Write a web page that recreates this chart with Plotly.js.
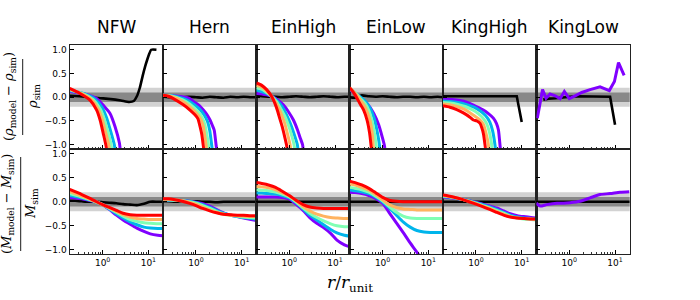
<!DOCTYPE html>
<html><head><meta charset="utf-8">
<script src="https://cdn.plot.ly/plotly-3.0.1.min.js"></script>
<style>html,body{margin:0;padding:0;background:#fff}#plot{width:700px;height:300px}</style>
</head><body><div id="plot"></div>
<script>
// ---------- categories / labels ----------
const panels = ['NFW', 'Hern', 'EinHigh', 'EinLow', 'KingHigh', 'KingLow'];
const xTickVals = [1, 10];
const xTickText = ['10<sup>0</sup>', '10<sup>1</sup>'];
const xMinorVals = [0.2,0.3,0.4,0.5,0.6,0.7,0.8,0.9,2,3,4,5,6,7,8,9,20];
const yTickVals = [-1, -0.5, 0, 0.5, 1];
const yTickText = ['\u22121.0', '\u22120.5', '0.0', '0.5', '1.0'];
// series order: purple, blue, green, orange, red
const seriesColors = ['#8000ff', '#00b5eb', '#80ffb4', '#ffb360', '#ff0000'];

// common radius grid (bottom row, flat black lines)
const R = [0.19, 0.25, 0.35, 0.5, 0.7, 1.0, 1.4, 2.0, 2.8, 4.0, 5.6, 8.0, 11, 16, 21];

// ---------- top row: density residuals ----------
const nfwRhoBlackR = [0.19, 0.4, 0.9, 1.5, 2.5, 3.8, 4.8, 5.6, 6.5, 7.5, 8.5, 9.5, 10.5, 11.5, 15];
const nfwRhoBlackY = [0.03, 0.01, -0.02, -0.04, -0.07, -0.1, -0.08, 0.02, 0.2, 0.45, 0.65, 0.8, 0.92, 1.0, 1.0];
const nfwRhoR = [
  [0.19, 0.4, 0.75, 1.1, 1.45, 1.87, 2.32, 2.55],
  [0.19, 0.38, 0.68, 0.98, 1.22, 1.48, 1.8, 1.97],
  [0.19, 0.36, 0.62, 0.88, 1.07, 1.28, 1.53, 1.67],
  [0.19, 0.34, 0.57, 0.8, 0.97, 1.15, 1.36, 1.48],
  [0.19, 0.32, 0.53, 0.74, 0.88, 1.03, 1.19, 1.3]];
const nfwRhoY = [
  [0.12, 0.07, -0.03, -0.2, -0.34, -0.62, -0.96, -1.3],
  [0.14, 0.08, -0.04, -0.22, -0.43, -0.7, -1.0, -1.3],
  [0.155, 0.08, -0.05, -0.24, -0.44, -0.7, -1.0, -1.3],
  [0.17, 0.08, -0.05, -0.25, -0.45, -0.72, -1.0, -1.3],
  [0.185, 0.08, -0.06, -0.27, -0.48, -0.76, -1.03, -1.3]];

const hernRhoBlackY = [0.01, 0.0, 0.01, 0.0, 0.01, 0.0, -0.01, 0.01, 0.0, -0.01, 0.01, 0.0, 0.01, 0.0, 0.0];
const hernRhoR = [
  [0.19, 0.3, 0.5, 0.7, 0.88, 1.2, 1.45, 1.75, 2.03, 2.3, 2.5, 2.75, 3.0],
  [0.19, 0.3, 0.5, 0.7, 0.9, 1.2, 1.5, 1.8, 2.0, 2.2, 2.4],
  [0.19, 0.3, 0.5, 0.7, 0.9, 1.1, 1.35, 1.55, 1.7, 1.87, 2.0],
  [0.19, 0.3, 0.5, 0.7, 0.9, 1.1, 1.3, 1.45, 1.55, 1.66, 1.8],
  [0.19, 0.25, 0.32, 0.53, 0.74, 0.95, 1.1, 1.23, 1.35, 1.45, 1.6]];
const hernRhoY = [
  [0.04, 0.03, 0.01, -0.02, -0.09, -0.18, -0.27, -0.37, -0.48, -0.6, -0.69, -1.0, -1.3],
  [0.04, 0.03, -0.02, -0.08, -0.15, -0.25, -0.37, -0.52, -0.7, -1.0, -1.3],
  [0.04, 0.02, -0.05, -0.13, -0.22, -0.3, -0.42, -0.56, -0.75, -1.0, -1.3],
  [0.04, 0.01, -0.08, -0.18, -0.28, -0.37, -0.48, -0.62, -0.8, -1.0, -1.3],
  [0.04, 0.02, -0.03, -0.16, -0.27, -0.37, -0.45, -0.62, -0.8, -1.03, -1.3]];

const einHighRhoBlackY = [0.04, 0.02, 0.01, 0.01, 0.0, 0.01, 0.02, 0.01, 0.0, 0.01, 0.02, 0.01, 0.0, 0.01, 0.01];
const einHighRhoR = [
  [0.19, 0.25, 0.32, 0.41, 0.55, 0.74, 0.95, 1.23, 1.5, 1.75, 1.95, 2.1],
  [0.19, 0.25, 0.32, 0.41, 0.55, 0.7, 0.85, 1.05, 1.25, 1.5, 1.62],
  [0.19, 0.25, 0.32, 0.41, 0.52, 0.65, 0.8, 0.95, 1.1, 1.27, 1.38],
  [0.19, 0.25, 0.32, 0.41, 0.5, 0.6, 0.7, 0.8, 0.9, 1.04, 1.12],
  [0.19, 0.25, 0.32, 0.41, 0.48, 0.55, 0.62, 0.7, 0.8, 0.88, 0.95]];
const einHighRhoY = [
  [0.08, 0.07, 0.05, 0.02, -0.05, -0.16, -0.3, -0.48, -0.68, -0.87, -1.0, -1.3],
  [0.15, 0.12, 0.08, 0.02, -0.08, -0.2, -0.35, -0.55, -0.75, -1.0, -1.3],
  [0.2, 0.17, 0.1, 0.02, -0.09, -0.24, -0.4, -0.58, -0.77, -1.0, -1.3],
  [0.25, 0.21, 0.13, 0.02, -0.1, -0.25, -0.4, -0.56, -0.75, -1.0, -1.3],
  [0.3, 0.25, 0.16, 0.02, -0.12, -0.28, -0.45, -0.62, -0.85, -1.03, -1.3]];

const einLowRhoBlackY = [0.0, -0.01, 0.04, 0.02, 0.01, 0.02, 0.01, 0.0, 0.01, 0.01, 0.0, 0.01, 0.0, 0.01, 0.0];
const einLowRhoR = [
  [0.19, 0.22, 0.26, 0.33, 0.457, 0.64, 0.82, 0.975, 1.1, 1.17],
  [0.19, 0.22, 0.26, 0.33, 0.43, 0.54, 0.65, 0.76, 0.85, 0.9],
  [0.19, 0.22, 0.26, 0.33, 0.42, 0.5, 0.58, 0.66, 0.72, 0.77],
  [0.19, 0.22, 0.26, 0.33, 0.4, 0.47, 0.54, 0.6, 0.62, 0.66],
  [0.19, 0.22, 0.25, 0.33, 0.385, 0.457, 0.52, 0.56, 0.6]];
const einLowRhoY = [
  [0.17, 0.12, 0.07, -0.02, -0.13, -0.34, -0.58, -0.83, -1.03, -1.3],
  [0.18, 0.13, 0.08, 0.0, -0.1, -0.24, -0.44, -0.72, -1.0, -1.3],
  [0.19, 0.14, 0.08, -0.03, -0.14, -0.28, -0.48, -0.75, -1.0, -1.3],
  [0.2, 0.14, 0.07, -0.06, -0.18, -0.33, -0.52, -0.8, -1.0, -1.3],
  [0.2, 0.13, 0.05, -0.16, -0.27, -0.48, -0.76, -1.03, -1.3]];

const kingHighRhoBlackR = [0.19, 0.5, 1, 2, 4, 6, 7.8, 10];
const kingHighRhoBlackY = [0.02, 0.02, 0.02, 0.03, 0.03, 0.03, 0.02, -0.52];
const kingHighRhoR = [
  [0.19, 0.3, 0.45, 0.65, 0.88, 1.15, 1.45, 1.9, 2.4, 2.8, 3.1, 3.37, 3.6],
  [0.19, 0.27, 0.4, 0.6, 0.9, 1.2, 1.6, 2.0, 2.3, 2.6, 2.8],
  [0.19, 0.27, 0.4, 0.6, 0.85, 1.1, 1.4, 1.7, 1.95, 2.2, 2.35],
  [0.19, 0.27, 0.4, 0.55, 0.75, 0.95, 1.2, 1.45, 1.65, 1.87, 2.0],
  [0.19, 0.27, 0.38, 0.53, 0.74, 0.88, 1.05, 1.23, 1.35, 1.45, 1.59, 1.7]];
const kingHighRhoY = [
  [-0.045, -0.05, -0.07, -0.11, -0.165, -0.22, -0.27, -0.35, -0.44, -0.55, -0.69, -1.03, -1.3],
  [-0.08, -0.09, -0.11, -0.15, -0.21, -0.28, -0.38, -0.52, -0.7, -1.0, -1.3],
  [-0.11, -0.12, -0.15, -0.2, -0.27, -0.34, -0.43, -0.55, -0.72, -1.0, -1.3],
  [-0.14, -0.16, -0.2, -0.25, -0.33, -0.4, -0.47, -0.57, -0.75, -1.0, -1.3],
  [-0.18, -0.21, -0.26, -0.33, -0.42, -0.48, -0.5, -0.55, -0.65, -0.76, -1.03, -1.3]];

const kingLowRhoBlackR = [0.27, 0.35, 0.5, 0.7, 1.04, 1.5, 2.4, 4, 6, 7.8, 10];
const kingLowRhoBlackY = [-0.05, -0.03, -0.02, 0.0, 0.01, 0.02, 0.02, 0.02, 0.02, 0.01, -0.58];
const kingLowRhoPurpleR = [0.2, 0.26, 0.31, 0.38, 0.49, 0.63, 0.78, 1.0, 1.34, 1.87, 2.85, 4.7, 7.5, 9.7, 11.9, 15.8];
const kingLowRhoPurpleY = [-0.44, 0.16, -0.02, 0.07, 0.03, -0.03, 0.12, -0.03, 0.03, 0.1, 0.16, 0.22, 0.14, 0.33, 0.73, 0.46];

// ---------- bottom row: enclosed-mass residuals (on grid R) ----------
const nfwMassBlackY = [0.02, 0.02, 0.01, 0.0, 0.0, -0.01, -0.02, -0.03, -0.05, -0.06, -0.07, -0.04, 0.0, 0.0, 0.0];
const nfwMassY = [
  [0.09, 0.08, 0.06, 0.03, 0.0, -0.06, -0.16, -0.28, -0.38, -0.47, -0.55, -0.62, -0.67, -0.7, -0.71],
  [0.13, 0.11, 0.08, 0.04, 0.0, -0.06, -0.15, -0.25, -0.34, -0.42, -0.48, -0.53, -0.55, -0.56, -0.56],
  [0.17, 0.14, 0.1, 0.05, 0.0, -0.06, -0.14, -0.22, -0.3, -0.37, -0.41, -0.44, -0.45, -0.46, -0.46],
  [0.21, 0.17, 0.12, 0.06, 0.0, -0.06, -0.13, -0.2, -0.27, -0.32, -0.35, -0.36, -0.37, -0.37, -0.37],
  [0.26, 0.21, 0.15, 0.08, 0.01, -0.06, -0.12, -0.18, -0.24, -0.27, -0.28, -0.28, -0.28, -0.28, -0.28]];

const hernMassBlackY = [0.01, 0.01, 0.0, 0.0, 0.0, 0.01, 0.0, 0.0, -0.01, 0.0, 0.0, 0.0, 0.0, 0.0, 0.0];
const hernMassY = [
  [0.03, 0.03, 0.03, 0.02, 0.01, -0.01, -0.04, -0.09, -0.16, -0.23, -0.28, -0.31, -0.34, -0.37, -0.39],
  [0.03, 0.03, 0.03, 0.02, 0.01, -0.02, -0.06, -0.12, -0.18, -0.24, -0.28, -0.31, -0.33, -0.35, -0.36],
  [0.04, 0.04, 0.03, 0.02, 0.0, -0.03, -0.08, -0.14, -0.2, -0.25, -0.28, -0.3, -0.32, -0.33, -0.34],
  [0.05, 0.05, 0.04, 0.02, -0.01, -0.05, -0.11, -0.17, -0.22, -0.26, -0.28, -0.29, -0.3, -0.31, -0.31],
  [0.06, 0.06, 0.04, 0.01, -0.03, -0.08, -0.14, -0.19, -0.23, -0.26, -0.27, -0.28, -0.28, -0.29, -0.29]];

const einHighMassBlackY = [0.0, 0.0, 0.0, 0.0, 0.0, 0.0, 0.0, 0.0, 0.0, 0.0, 0.0, 0.0, 0.0, 0.0, 0.0];
const einHighMassY = [
  [0.1, 0.1, 0.1, 0.1, 0.09, 0.06, -0.05, -0.18, -0.33, -0.45, -0.54, -0.66, -0.8, -0.9, -0.94],
  [0.18, 0.18, 0.17, 0.16, 0.13, 0.08, -0.02, -0.15, -0.28, -0.38, -0.48, -0.58, -0.65, -0.7, -0.72],
  [0.25, 0.24, 0.23, 0.2, 0.16, 0.1, 0.0, -0.13, -0.24, -0.33, -0.4, -0.46, -0.5, -0.52, -0.52],
  [0.32, 0.31, 0.29, 0.25, 0.19, 0.12, 0.02, -0.1, -0.19, -0.26, -0.3, -0.33, -0.34, -0.35, -0.35],
  [0.4, 0.38, 0.35, 0.3, 0.22, 0.13, 0.03, -0.06, -0.11, -0.13, -0.14, -0.14, -0.14, -0.14, -0.14]];

const einLowMassBlackY = [0.0, 0.0, 0.0, 0.0, 0.0, 0.0, 0.0, 0.0, 0.0, 0.0, 0.0, 0.0, 0.0, 0.0, 0.0];
const einLowMassY = [
  [0.2, 0.19, 0.17, 0.13, 0.07, -0.03, -0.23, -0.44, -0.64, -0.86, -1.05, -1.27, -1.45, -1.6, -1.7],
  [0.25, 0.23, 0.21, 0.17, 0.1, 0.0, -0.13, -0.28, -0.42, -0.53, -0.6, -0.63, -0.64, -0.64, -0.64],
  [0.3, 0.28, 0.25, 0.2, 0.12, 0.02, -0.1, -0.22, -0.3, -0.34, -0.35, -0.35, -0.35, -0.35, -0.35],
  [0.37, 0.35, 0.3, 0.24, 0.15, 0.04, -0.06, -0.12, -0.15, -0.16, -0.17, -0.17, -0.17, -0.17, -0.17],
  [0.43, 0.4, 0.35, 0.28, 0.19, 0.09, 0.03, 0.01, 0.0, 0.0, 0.0, 0.0, 0.0, 0.0, 0.0]];

const kingHighMassBlackY = [0.0, 0.0, 0.0, 0.0, 0.0, 0.0, 0.0, 0.0, 0.0, 0.0, 0.0, 0.0, 0.0, 0.0, 0.0];
const kingHighMassY = [
  [0.1, 0.09, 0.07, 0.05, 0.02, -0.01, -0.05, -0.09, -0.13, -0.19, -0.25, -0.29, -0.31, -0.33, -0.34],
  [0.11, 0.1, 0.08, 0.05, 0.02, -0.02, -0.06, -0.11, -0.16, -0.22, -0.28, -0.32, -0.34, -0.35, -0.36],
  [0.12, 0.11, 0.08, 0.05, 0.01, -0.03, -0.08, -0.13, -0.18, -0.24, -0.3, -0.34, -0.36, -0.37, -0.38],
  [0.13, 0.11, 0.09, 0.05, 0.01, -0.04, -0.09, -0.14, -0.2, -0.26, -0.31, -0.34, -0.35, -0.36, -0.37],
  [0.14, 0.12, 0.09, 0.05, 0.0, -0.05, -0.1, -0.16, -0.22, -0.28, -0.32, -0.34, -0.35, -0.36, -0.36]];

const kingLowMassBlackY = [0.0, 0.0, 0.0, 0.0, 0.0, 0.0, 0.0, 0.0, 0.0, 0.0, 0.0, 0.0, 0.0, 0.0, 0.0];
const kingLowMassPurpleR = [0.19, 0.23, 0.32, 0.54, 0.75, 1.04, 1.72, 2.85, 4.7, 7.8, 12.9, 20.6];
const kingLowMassPurpleY = [-0.03, -0.09, -0.06, -0.03, -0.03, -0.02, 0.01, 0.08, 0.15, 0.17, 0.2, 0.21];

// ---------- assembly ----------
const W = 700, H = 300, L0 = 69.7, PW = 93.33;
const rowPx = [[45, 149], [149, 254]];
const traces = [];
const layout = {
  width: W, height: H, margin: {l: 0, r: 0, t: 0, b: 0},
  showlegend: false, paper_bgcolor: '#fff', plot_bgcolor: '#fff',
  shapes: [], annotations: []
};
function sfx(k) { return k === 1 ? '' : String(k); }
function addPanel(k, col, row) {
  const s = sfx(k);
  layout['xaxis' + s] = {
    type: 'log', range: [-0.72, 1.32], domain: [(L0 + PW * col) / W, (L0 + PW * (col + 1)) / W],
    anchor: 'y' + s, ticks: 'inside', ticklen: 4, tickwidth: 1, tickcolor: '#000',
    tickmode: 'array', tickvals: xTickVals, ticktext: xTickText, showticklabels: row === 1,
    tickfont: {family: 'DejaVu Sans', size: 9, color: '#000'},
    showgrid: false, zeroline: false, showline: true, mirror: true, linecolor: '#222', linewidth: 1.2,
    minor: {ticks: 'inside', ticklen: 2, tickwidth: 0.8, tickcolor: '#000', tickmode: 'array', tickvals: xMinorVals, showgrid: false}
  };
  const rp = rowPx[row];
  layout['yaxis' + s] = {
    range: [-1.09, 1.1], domain: [(H - rp[1]) / H, (H - rp[0]) / H], anchor: 'x' + s,
    ticks: 'inside', ticklen: 4, tickwidth: 1, tickcolor: '#000',
    tickmode: 'array', tickvals: yTickVals, ticktext: yTickText, showticklabels: col === 0,
    tickfont: {family: 'DejaVu Sans', size: 9, color: '#000'},
    showgrid: false, zeroline: false, showline: true, mirror: true, linecolor: '#222', linewidth: 1.2
  };
  layout.shapes.push({type: 'rect', xref: 'x' + s + ' domain', yref: 'y' + s, x0: 0, x1: 1, y0: -0.2, y1: 0.2,
    fillcolor: '#d2d2d2', line: {width: 0}, layer: 'below'});
  layout.shapes.push({type: 'rect', xref: 'x' + s + ' domain', yref: 'y' + s, x0: 0, x1: 1, y0: -0.1, y1: 0.1,
    fillcolor: '#888888', line: {width: 0}, layer: 'below'});
}
function line(k, x, y, color, width, shape) {
  const s = sfx(k);
  traces.push({type: 'scatter', mode: 'lines', x: x, y: y, xaxis: 'x' + s, yaxis: 'y' + s,
    line: {color: color, width: width, shape: shape || 'spline', smoothing: 0.6}, hoverinfo: 'skip'});
}
for (let c = 0; c < 6; c++) { addPanel(c + 1, c, 0); addPanel(c + 7, c, 1); }

// top row
line(1, nfwRhoBlackR, nfwRhoBlackY, '#000', 2.6);
nfwRhoR.forEach((r, i) => line(1, r, nfwRhoY[i], seriesColors[i], 3));
line(2, R, hernRhoBlackY, '#000', 2.6);
hernRhoR.forEach((r, i) => line(2, r, hernRhoY[i], seriesColors[i], 3));
line(3, R, einHighRhoBlackY, '#000', 2.6);
einHighRhoR.forEach((r, i) => line(3, r, einHighRhoY[i], seriesColors[i], 3));
line(4, R, einLowRhoBlackY, '#000', 2.6);
einLowRhoR.forEach((r, i) => line(4, r, einLowRhoY[i], seriesColors[i], 3));
line(5, kingHighRhoBlackR, kingHighRhoBlackY, '#000', 2.6, 'linear');
kingHighRhoR.forEach((r, i) => line(5, r, kingHighRhoY[i], seriesColors[i], 3));
line(6, kingLowRhoBlackR, kingLowRhoBlackY, '#000', 2.6, 'linear');
line(6, kingLowRhoPurpleR, kingLowRhoPurpleY, seriesColors[0], 3, 'linear');
// bottom row
line(7, R, nfwMassBlackY, '#000', 2.6);
nfwMassY.forEach((y, i) => line(7, R, y, seriesColors[i], 3));
line(8, R, hernMassBlackY, '#000', 2.6);
hernMassY.forEach((y, i) => line(8, R, y, seriesColors[i], 3));
line(9, R, einHighMassBlackY, '#000', 2.6);
einHighMassY.forEach((y, i) => line(9, R, y, seriesColors[i], 3));
line(10, R, einLowMassBlackY, '#000', 2.6);
einLowMassY.forEach((y, i) => line(10, R, y, seriesColors[i], 3));
line(11, R, kingHighMassBlackY, '#000', 2.6);
kingHighMassY.forEach((y, i) => line(11, R, y, seriesColors[i], 3));
line(12, R, kingLowMassBlackY, '#000', 2.6);
line(12, kingLowMassPurpleR, kingLowMassPurpleY, seriesColors[0], 3);

// column titles
panels.forEach((p, c) => layout.annotations.push({
  text: p, xref: 'paper', yref: 'paper', x: (L0 + PW * (c + 0.5)) / W, y: (H - 39) / H,
  xanchor: 'center', yanchor: 'bottom', showarrow: false,
  font: {family: 'DejaVu Sans', size: 17, color: '#000'}
}));
// y labels (fractions)
const serif = 'DejaVu Serif';
function yLabel(num, den, xNum, xDen, xBar, yTop, yBot, size) {
  const yc = (yTop + yBot) / 2;
  layout.annotations.push({text: num, xref: 'paper', yref: 'paper', x: xNum / W, y: (H - yc) / H,
    xanchor: 'center', yanchor: 'middle', textangle: -90, showarrow: false,
    font: {family: serif, size: size, color: '#000'}});
  layout.annotations.push({text: den, xref: 'paper', yref: 'paper', x: xDen / W, y: (H - yc) / H,
    xanchor: 'center', yanchor: 'middle', textangle: -90, showarrow: false,
    font: {family: serif, size: size, color: '#000'}});
  layout.shapes.push({type: 'line', xref: 'paper', yref: 'paper', x0: xBar / W, x1: xBar / W,
    y0: (H - yTop) / H, y1: (H - yBot) / H, line: {color: '#000', width: 0.9}});
}
yLabel('(<i>ρ</i><sub>model</sub> − <i>ρ</i><sub>sim</sub>)', '<i>ρ</i><sub>sim</sub>', 9, 33, 22.7, 59, 135, 13);
yLabel('(<i>M</i><sub>model</sub> − <i>M</i><sub>sim</sub>)', '<i>M</i><sub>sim</sub>', 8, 32, 20.7, 157, 251, 13);
// x label
layout.annotations.push({text: '<i>r</i>/<i>r</i><sub>unit</sub>', xref: 'paper', yref: 'paper',
  x: 350 / W, y: (H - 283) / H, xanchor: 'center', yanchor: 'middle', showarrow: false,
  font: {family: serif, size: 17, color: '#000'}});

Plotly.newPlot('plot', traces, layout, {staticPlot: true, displayModeBar: false});
</script></body></html>
